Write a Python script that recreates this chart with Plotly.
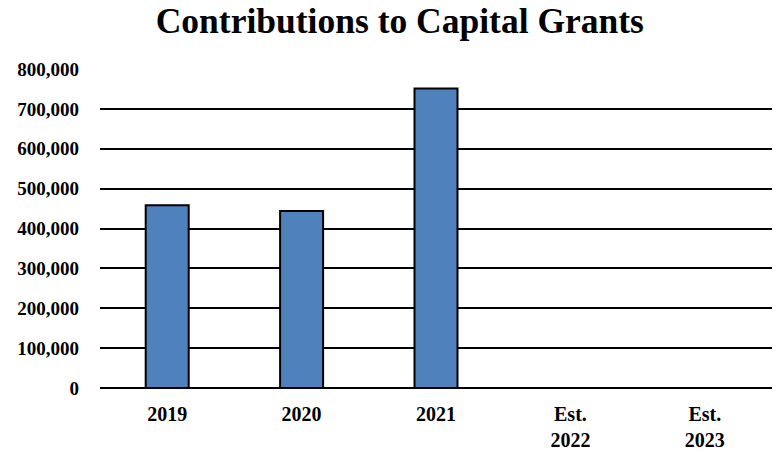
import plotly.graph_objects as go

# Contributions to capital grants by fiscal year
categories = ["2019", "2020", "2021", "Est.<br>2022", "Est.<br>2023"]
contributions = [458000, 444000, 751000, 0, 0]
y_ticks = [0, 100000, 200000, 300000, 400000, 500000, 600000, 700000, 800000]
y_tick_labels = ["0", "100,000", "200,000", "300,000", "400,000",
                 "500,000", "600,000", "700,000", "800,000"]

serif = "Liberation Serif, Times New Roman, serif"

fig = go.Figure(
    go.Bar(
        x=categories,
        y=contributions,
        marker=dict(color="#4F81BD", line=dict(color="black", width=2)),
        hoverinfo="x+y",
    )
)

fig.update_layout(
    width=784,
    height=452,
    margin=dict(l=100, r=12, t=69, b=64, autoexpand=False),
    paper_bgcolor="white",
    plot_bgcolor="white",
    bargap=0.68,
    showlegend=False,
    title=dict(
        text="<b>Contributions to Capital Grants</b>",
        x=0.51,
        xanchor="center",
        y=0.955,
        yanchor="middle",
        font=dict(family=serif, size=35.5, color="black"),
    ),
    font=dict(family=serif, color="black"),
)

fig.update_yaxes(
    range=[0, 800000],
    tickvals=y_ticks,
    ticktext=[f"<b>{t}</b>" for t in y_tick_labels],
    tickfont=dict(family=serif, size=19, color="black"),
    showgrid=True,
    gridcolor="black",
    gridwidth=2,
    zeroline=True,
    zerolinecolor="black",
    zerolinewidth=2,
    ticks="",
    ticklabelstandoff=20,
    automargin=False,
)

fig.update_xaxes(
    tickvals=categories,
    ticktext=[f"<b>{c}</b>" for c in categories],
    tickfont=dict(family=serif, size=20, color="black"),
    showline=False,
    ticks="",
    ticklabelstandoff=12,
    automargin=False,
)

fig.write_html("out.html")
